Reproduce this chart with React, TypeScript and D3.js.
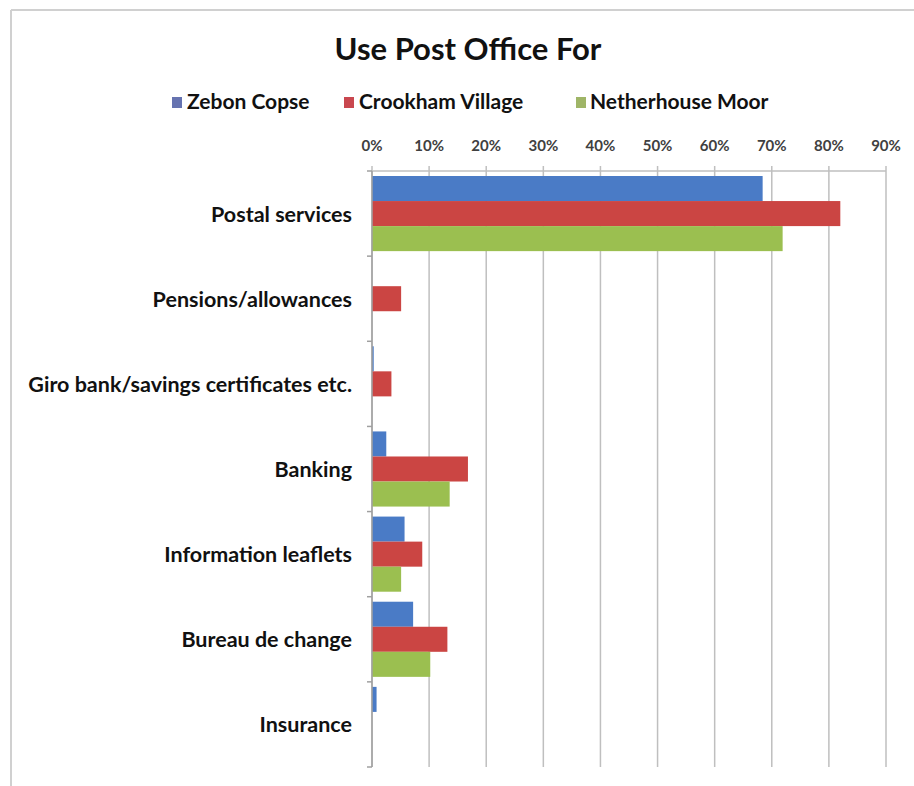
import React from "react";
import * as d3 from "d3";

const categories = [
  "Postal services",
  "Pensions/allowances",
  "Giro bank/savings certificates etc.",
  "Banking",
  "Information leaflets",
  "Bureau de change",
  "Insurance",
];
const seriesNames = ["Zebon Copse", "Crookham Village", "Netherhouse Moor"];
const zebonCopse = [68.4, 0, 0.3, 2.5, 5.7, 7.2, 0.8];
const crookhamVillage = [82.0, 5.1, 3.4, 16.8, 8.8, 13.2, 0];
const netherhouseMoor = [71.9, 0, 0, 13.6, 5.1, 10.2, 0];
const tickValues = [0, 10, 20, 30, 40, 50, 60, 70, 80, 90];
const barColors = ["#4a7bc6", "#cb4543", "#9bbf50"];
const legendColors = ["#6673b0", "#c9474f", "#9fb567"];

const FONT = "'Lato', sans-serif";

export default function App() {
  const series = [zebonCopse, crookhamVillage, netherhouseMoor];
  const left = 372, right = 886, top = 171, bottom = 767;
  const x = d3.scaleLinear().domain([0, 90]).range([left, right]);
  const y = d3.scaleBand<string>().domain(categories).range([top, bottom]).padding(0);
  const inner = d3
    .scaleBand<string>()
    .domain(seriesNames)
    .range([0, y.bandwidth()])
    .paddingInner(0)
    .paddingOuter(0.2);

  const boundaries = categories.map((c) => y(c)!).concat([bottom]);

  const legendItems = [
    { name: seriesNames[0], sx: 172, tx: 187 },
    { name: seriesNames[1], sx: 344, tx: 359 },
    { name: seriesNames[2], sx: 576, tx: 590 },
  ];

  return (
    <svg
      width={914}
      height={786}
      style={{ position: "absolute", left: 0, top: 0, background: "#fff" }}
      fontFamily={FONT}
    >
      <rect x={0} y={0} width={914} height={786} fill="#fff" />
      {/* chart border */}
      <line x1={11} y1={10} x2={914} y2={10} stroke="#d0d0d0" strokeWidth={2} />
      <line x1={11} y1={10} x2={11} y2={786} stroke="#d0d0d0" strokeWidth={2} />

      <text x={468} y={60} textAnchor="middle" fontSize={31} fontWeight="bold" fill="#111">
        Use Post Office For
      </text>

      {legendItems.map((l, i) => (
        <g key={l.name}>
          <rect x={l.sx} y={97} width={10} height={11} fill={legendColors[i]} />
          <text x={l.tx} y={109} fontSize={21} fontWeight="bold" fill="#111">
            {l.name}
          </text>
        </g>
      ))}

      {/* gridlines */}
      {tickValues.map((t) => (
        <line key={t} x1={x(t)} x2={x(t)} y1={top - 5} y2={bottom} stroke="#bfbfbf" strokeWidth={1.5} />
      ))}
      <line x1={left} x2={right} y1={top} y2={top} stroke="#bfbfbf" strokeWidth={1.5} />

      {tickValues.map((t) => (
        <text key={t} x={x(t)} y={151} textAnchor="middle" fontSize={15} fontWeight="bold" fill="#404040">
          {t}%
        </text>
      ))}

      {/* bars */}
      {categories.map((c, ci) =>
        series.map((s, si) => (
          <rect
            key={c + si}
            x={x(0)}
            y={y(c)! + inner(seriesNames[si])!}
            width={x(s[ci]) - x(0)}
            height={inner.bandwidth()}
            fill={barColors[si]}
          />
        ))
      )}

      {/* category axis */}
      <line x1={left} x2={left} y1={top} y2={bottom} stroke="#a0a0a0" strokeWidth={1.5} />
      {boundaries.map((b, i) => (
        <line key={i} x1={left - 5} x2={left} y1={b} y2={b} stroke="#a0a0a0" strokeWidth={1.5} />
      ))}
      {categories.map((c) => (
        <text
          key={c}
          x={352}
          y={y(c)! + y.bandwidth() / 2}
          textAnchor="end"
          dominantBaseline="central"
          fontSize={21.5}
          fontWeight="bold"
          fill="#111"
        >
          {c}
        </text>
      ))}
    </svg>
  );
}
